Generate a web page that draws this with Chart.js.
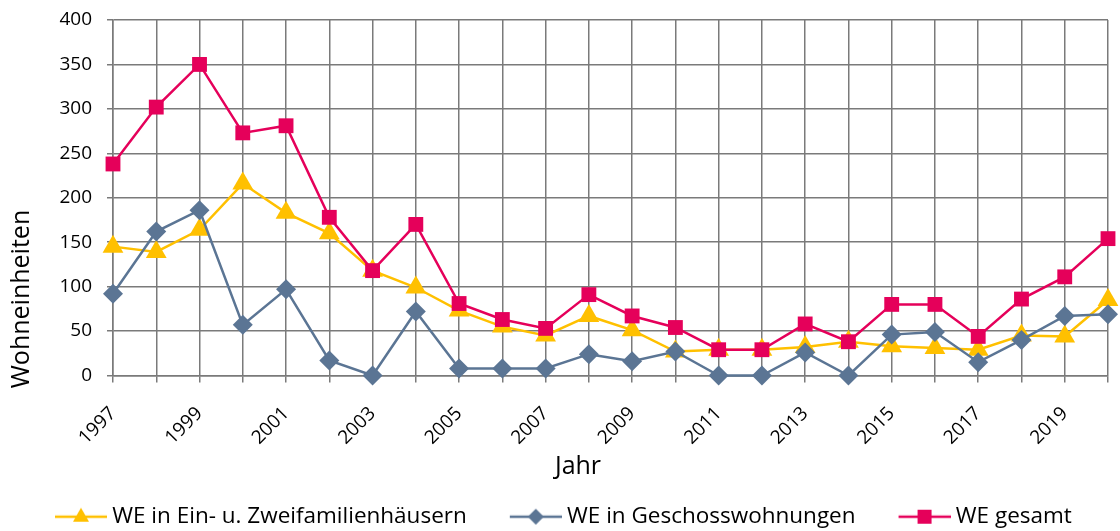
<!DOCTYPE html>
<html><head><meta charset="utf-8">
<script src="https://cdn.jsdelivr.net/npm/chart.js@4/dist/chart.umd.min.js"></script>
<style>html,body{margin:0;padding:0;background:#fff}#wrap{width:1120px;height:531px}</style>
</head><body><div id="wrap"><canvas id="c" width="1120" height="531"></canvas></div>
<script>
const years = ['1997','1998','1999','2000','2001','2002','2003','2004','2005','2006','2007','2008','2009','2010','2011','2012','2013','2014','2015','2016','2017','2018','2019','2020'];
const einZwei = [145, 139, 164, 216, 183, 160, 118, 99, 73, 55, 45, 67, 51, 27, 29, 29, 32, 38, 33, 31, 29, 45, 44, 85];
const geschoss = [92, 162, 186, 57, 97, 17, 0, 72, 8, 8, 8, 24, 16, 27, 0, 0, 26, 0, 46, 49, 15, 40, 67, 69];
const gesamt = [238, 302, 350, 273, 281, 178, 118, 170, 81, 63, 53, 91, 67, 54, 29, 29, 58, 38, 80, 80, 44, 86, 111, 154];
const seriesNames = ['WE in Ein- u. Zweifamilienhäusern', 'WE in Geschosswohnungen', 'WE gesamt'];
const xTitle = 'Jahr';
const yTitle = 'Wohneinheiten';

const FONT = '"Open Sans", "DejaVu Sans", sans-serif';
const YELLOW = '#FFC000', GREY = '#5B7594', RED = '#E5005A';
const GRID = '#7a7a7a';

function legendIcon(color, shape) {
  const c = document.createElement('canvas');
  c.width = 91; c.height = 22;
  const g = c.getContext('2d');
  g.strokeStyle = color; g.lineWidth = 2.5;
  g.beginPath(); g.moveTo(39, 11); g.lineTo(91, 11); g.stroke();
  g.fillStyle = color;
  const cx = 65, cy = 11;
  g.beginPath();
  if (shape === 'triangle') { g.moveTo(cx, cy - 9); g.lineTo(cx + 8, cy + 5); g.lineTo(cx - 8, cy + 5); }
  else if (shape === 'rectRot') { g.moveTo(cx, cy - 8); g.lineTo(cx + 8, cy); g.lineTo(cx, cy + 8); g.lineTo(cx - 8, cy); }
  else { g.rect(cx - 7, cy - 7, 14, 14); }
  g.closePath(); g.fill();
  return c;
}
const icons = [legendIcon(YELLOW, 'triangle'), legendIcon(GREY, 'rectRot'), legendIcon(RED, 'rect')];

const axisTitles = {
  id: 'axisTitles',
  afterDraw(chart) {
    const ctx = chart.ctx;
    ctx.save();
    ctx.font = '25px ' + FONT;
    ctx.fillStyle = '#000';
    ctx.textAlign = 'center';
    ctx.textBaseline = 'middle';
    ctx.fillText(xTitle, 578, 467);
    ctx.translate(22, 299);
    ctx.rotate(-Math.PI / 2);
    ctx.fillText(yTitle, 0, 0);
    ctx.restore();
  }
};

const ds = (label, data, color, style, radius, order) => ({
  label, data, borderColor: color, backgroundColor: color, pointBackgroundColor: color,
  pointBorderColor: color, pointBorderWidth: 0, borderWidth: 2.5, pointStyle: style,
  pointRadius: radius, tension: 0, clip: false, order
});

function zeroPad(s) { s.paddingLeft = 0; s.paddingRight = 0; s.paddingTop = 0; s.paddingBottom = 0; }

new Chart(document.getElementById('c'), {
  type: 'line',
  data: {
    labels: years,
    datasets: [
      ds(seriesNames[0], einZwei, YELLOW, 'triangle', 12, 3),
      ds(seriesNames[1], geschoss, GREY, 'rectRot', 10, 2),
      ds(seriesNames[2], gesamt, RED, 'rect', 10.5, 1)
    ]
  },
  options: {
    responsive: false,
    animation: false,
    layout: { padding: { left: 12, right: 8, top: 20, bottom: -7 } },
    plugins: {
      tooltip: { enabled: false },
      legend: {
        position: 'bottom',
        align: 'start',
        labels: {
          usePointStyle: true,
          pointStyleWidth: 79,
          padding: 10,
          color: '#000',
          font: { size: 22.5, family: FONT },
          sort: (a, b) => a.datasetIndex - b.datasetIndex,
          generateLabels(chart) {
            const items = Chart.defaults.plugins.legend.labels.generateLabels(chart);
            items.forEach(it => { it.pointStyle = icons[it.datasetIndex]; });
            return items;
          }
        }
      }
    },
    scales: {
      x: {
        grid: { color: GRID, lineWidth: 1.5, tickLength: 7, tickColor: GRID },
        border: { color: GRID, width: 1.5 },
        ticks: {
          autoSkip: false, minRotation: 45, maxRotation: 45, padding: 20,
          color: '#000', font: { size: 19, family: FONT },
          callback: (v, i) => (i % 2 === 0 ? years[i] : '')
        },
        afterCalculateLabelRotation(s) {
          const ls = s._labelSizes;
          if (ls && ls.last) { ls.last = Object.assign({}, ls.last, { height: 0, offset: 0, width: 0 }); }
        },
        afterFit(s) { s.height = 120; zeroPad(s); }
      },
      y: {
        min: 0, max: 400,
        grid: { color: GRID, lineWidth: 1.5, tickLength: 6, tickColor: GRID },
        border: { color: GRID, width: 1.5 },
        ticks: { stepSize: 50, padding: 15, color: '#000', font: { size: 19, family: FONT } },
        afterFit(s) { s.width = 101; zeroPad(s); }
      }
    }
  },
  plugins: [axisTitles]
});
</script>
</body></html>
